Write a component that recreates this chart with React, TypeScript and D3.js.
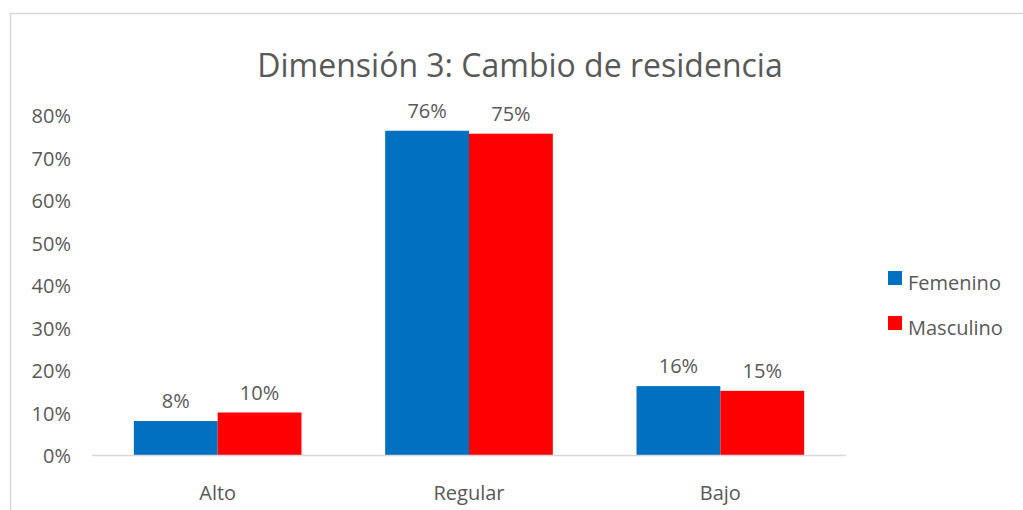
import React from "react";
import * as d3 from "d3";

const categories = ["Alto", "Regular", "Bajo"];
const seriesNames = ["Femenino", "Masculino"];
const femenino = [8, 76.3, 16.2];
const masculino = [10, 75.6, 15.1];
const femeninoLabels = ["8%", "76%", "16%"];
const masculinoLabels = ["10%", "75%", "15%"];
const yTicks = [0, 10, 20, 30, 40, 50, 60, 70, 80];
const colors = ["#0070C0", "#FF0000"];

const W = 1023;
const H = 510;
const FONT = "'Open Sans', Carlito, Calibri, sans-serif";
const TEXT = "#595959";

export default function App() {
  const x0 = d3
    .scaleBand<string>()
    .domain(categories)
    .range([92, 846])
    .paddingInner(0.333)
    .paddingOuter(0.1665);
  const x1 = d3
    .scaleBand<string>()
    .domain(seriesNames)
    .range([0, x0.bandwidth()]);
  const y = d3.scaleLinear().domain([0, 80]).range([455, 115]);

  const series = [
    { name: seriesNames[0], values: femenino, labels: femeninoLabels, color: colors[0] },
    { name: seriesNames[1], values: masculino, labels: masculinoLabels, color: colors[1] },
  ];

  return (
    <svg
      width={W}
      height={H}
      style={{ position: "absolute", left: 0, top: 0, background: "#fff" }}
      fontFamily={FONT}
    >
      <rect x={10.5} y={13.5} width={W} height={H} fill="#fff" stroke="#D9D9D9" strokeWidth={1.5} />
      <text x={520} y={77} textAnchor="middle" fontSize={32} fill={TEXT}>
        Dimensión 3: Cambio de residencia
      </text>
      {yTicks.map((t) => (
        <text key={t} x={71} y={y(t) + 8} textAnchor="end" fontSize={20} fill={TEXT}>
          {t}%
        </text>
      ))}
      {series.map((s) =>
        categories.map((c, i) => {
          const bx = (x0(c) as number) + (x1(s.name) as number);
          const bw = x1.bandwidth();
          return (
            <g key={s.name + c}>
              <rect x={bx} y={y(s.values[i])} width={bw} height={y(0) - y(s.values[i])} fill={s.color} />
              <text
                x={bx + bw / 2}
                y={y(s.values[i]) - 13}
                textAnchor="middle"
                fontSize={20}
                fill={TEXT}
              >
                {s.labels[i]}
              </text>
            </g>
          );
        })
      )}
      <line x1={92} x2={846} y1={455.5} y2={455.5} stroke="#D9D9D9" strokeWidth={1.5} />
      {categories.map((c) => (
        <text
          key={c}
          x={(x0(c) as number) + x0.bandwidth() / 2}
          y={500}
          textAnchor="middle"
          fontSize={20}
          fill={TEXT}
        >
          {c}
        </text>
      ))}
      {series.map((s, i) => (
        <g key={s.name} transform={`translate(888, ${271 + i * 45})`}>
          <rect width={14} height={14} fill={s.color} />
          <text x={20} y={19} fontSize={20} fill={TEXT}>
            {s.name}
          </text>
        </g>
      ))}
    </svg>
  );
}
